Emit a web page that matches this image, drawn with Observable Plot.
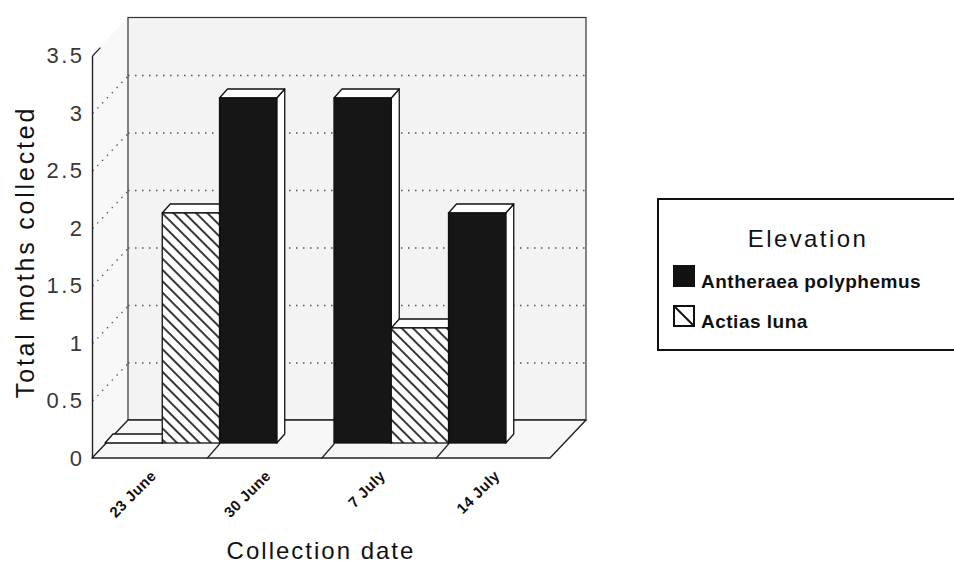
<!DOCTYPE html>
<html><head><meta charset="utf-8">
<script src="https://cdn.jsdelivr.net/npm/d3@7"></script>
<script src="https://cdn.jsdelivr.net/npm/@observablehq/plot@0.6"></script>
<style>
html,body{margin:0;padding:0;background:#fff;overflow:hidden;}
#wrap{position:relative;width:954px;height:569px;overflow:hidden;font-family:"Liberation Sans",Arial,Helvetica,sans-serif;}
#wrap > svg.chart{position:absolute;left:0;top:0;}
.ytitle{position:absolute;left:25px;top:252px;transform:translate(-50%,-50%) rotate(-90deg);font-size:25px;letter-spacing:2.8px;white-space:nowrap;color:#111;line-height:1;}
.xtitle{position:absolute;left:321px;top:539px;transform:translateX(-50%);font-size:24px;letter-spacing:2px;white-space:nowrap;color:#111;line-height:1;}
#wrap > svg#legend{position:absolute;left:650px;top:190px;}
</style>
</head><body>
<div id="wrap"></div>
<script>
// ---- data ----
const dates = ["23 June", "30 June", "7 July", "14 July"];
const seriesNames = ["Antheraea polyphemus", "Actias luna"];
const polyphemus = [0, 3, 3, 2];
const luna = [2, null, 1, null];
const yTicks = [0, 0.5, 1, 1.5, 2, 2.5, 3, 3.5];
const gridTicks = [0.5, 1, 1.5, 2, 2.5, 3];
const yMax = 3.5;
const legendTitle = "Elevation";
const xTitle = "Collection date";
const yTitle = "Total moths collected";

// ---- geometry (pixel depth offsets of the pseudo-3D planes) ----
const X_RANGE = [105, 563];
const Y_RANGE = [443, 40.5];
const n = dates.length;
const pxX = (X_RANGE[1] - X_RANGE[0]) / n;
const pxY = (Y_RANGE[0] - Y_RANGE[1]) / yMax;
const fx = -13 / pxX, fy = -15 / pxY;   // front plane
const bx = 23 / pxX, by = 23 / pxY;     // back wall
const ddx = 8 / pxX, ddy = 9 / pxY;     // bar depth
const barW = 1 / seriesNames.length;
const seriesValues = [polyphemus, luna];

const bars = [];
dates.forEach((d, i) => seriesValues.forEach((vals, j) => {
  if (vals[i] != null) bars.push({id: d + "|" + j, date: d, j, value: vals[i], x1: i + j * barW, x2: i + (j + 1) * barW});
}));
const sidePts = bars.flatMap(b => [
  {id: b.id, x: b.x2, y1: 0, y2: b.value},
  {id: b.id, x: b.x2 + ddx, y1: ddy, y2: b.value + ddy}
]);
const topPts = bars.flatMap(b => [
  {id: b.id, y: b.value, x1: b.x1, x2: b.x2},
  {id: b.id, y: b.value + ddy, x1: b.x1 + ddx, x2: b.x2 + ddx}
]);

const FONT = "Liberation Sans, Arial, Helvetica, sans-serif";
const svg = Plot.plot({
  width: 954, height: 569,
  className: "chart",
  x: {type: "linear", domain: [0, n], range: X_RANGE, axis: null},
  y: {type: "linear", domain: [0, yMax], range: Y_RANGE, axis: null},
  style: {background: "transparent", fontFamily: FONT, overflow: "visible"},
  marks: [
    // left side wall
    Plot.areaY([{x: fx, y1: fy, y2: yMax + fy}, {x: bx, y1: by, y2: yMax + by}], {x: "x", y1: "y1", y2: "y2", fill: "#f8f8f8"}),
    // back wall
    Plot.rect([{x1: bx, x2: n + bx, y1: by, y2: yMax + by}], {x1: "x1", x2: "x2", y1: "y1", y2: "y2", fill: "#f3f3f3", stroke: "#333", strokeWidth: 1.2}),
    // back wall grid
    Plot.ruleY(gridTicks, {y: d => d + by, x1: () => bx, x2: () => n + bx, stroke: "#555", strokeWidth: 1.3, strokeDasharray: "1.5,5.5"}),
    // side wall grid
    Plot.link(gridTicks, {x1: () => fx, y1: d => d + fy, x2: () => bx, y2: d => d + by, stroke: "#555", strokeWidth: 1.3, strokeDasharray: "1.5,5.5"}),
    // floor
    Plot.areaX([{y: fy, x1: fx, x2: n + fx}, {y: by, x1: bx, x2: n + bx}], {y: "y", x1: "x1", x2: "x2", fill: "#f7f7f7", stroke: "#222", strokeWidth: 1.4}),
    // floor dividers
    Plot.link(d3.range(1, n), {x1: i => i + fx, y1: () => fy, x2: i => i, y2: () => 0, stroke: "#222", strokeWidth: 1.2}),
    // front y axis line + top stub
    Plot.link([yMax], {x1: () => fx, y1: () => fy, x2: () => fx, y2: d => d + fy, stroke: "#222", strokeWidth: 1.4}),
    Plot.link([yMax], {x1: () => fx, y1: d => d + fy, x2: () => fx + 0.22 * (bx - fx), y2: d => d + fy + 0.22 * (by - fy), stroke: "#222", strokeWidth: 1.2}),
    // bars: side faces, top faces, front faces
    Plot.areaY(sidePts, {x: "x", y1: "y1", y2: "y2", z: "id", fill: "white", stroke: "#111", strokeWidth: 1.3}),
    Plot.areaX(topPts, {y: "y", x1: "x1", x2: "x2", z: "id", fill: "white", stroke: "#111", strokeWidth: 1.3}),
    Plot.rect(bars.filter(b => b.j === 0), {x1: "x1", x2: "x2", y1: () => 0, y2: "value", fill: "#161616", stroke: "#111", strokeWidth: 1.3}),
    Plot.rect(bars.filter(b => b.j === 1), {x1: "x1", x2: "x2", y1: () => 0, y2: "value", fill: "url(#hatch)", stroke: "#111", strokeWidth: 1.3}),
    // y tick labels
    Plot.text(yTicks, {x: () => fx, y: d => d + fy, text: d => String(d), textAnchor: "end", dx: -8, fontSize: 22, fill: "#383838", fontFamily: FONT}),
    // date labels
    Plot.text(dates, {x: (d, i) => i + 0.5 + fx, y: () => fy, text: d => d, rotate: -45, textAnchor: "end", dx: 4, dy: 15, fontSize: 15, fontWeight: "bold", fill: "#111", fontFamily: FONT})
  ]
});

d3.select(svg).insert("defs", ":first-child").html(
  '<pattern id="hatch" patternUnits="userSpaceOnUse" width="8" height="8" patternTransform="rotate(-45)">' +
  '<rect width="8" height="8" fill="white"/><line x1="4" y1="-1" x2="4" y2="9" stroke="#151515" stroke-width="1.7"/></pattern>'
);
const tg = svg.querySelectorAll('g[aria-label="text"]');
if (tg[0]) tg[0].setAttribute("letter-spacing", "2.5");
if (tg[1]) tg[1].setAttribute("letter-spacing", "0.4");

const wrap = document.getElementById("wrap");
wrap.appendChild(svg);

const yt = document.createElement("div"); yt.className = "ytitle"; yt.textContent = yTitle; wrap.appendChild(yt);
const xt = document.createElement("div"); xt.className = "xtitle"; xt.textContent = xTitle; wrap.appendChild(xt);

// legend
const lg = d3.select(wrap).append("svg").attr("id", "legend").attr("width", 304).attr("height", 170)
  .style("font-family", FONT);
lg.append("rect").attr("x", 8).attr("y", 9).attr("width", 320).attr("height", 151)
  .attr("fill", "white").attr("stroke", "#111").attr("stroke-width", 2);
lg.append("text").attr("x", 158).attr("y", 57).attr("text-anchor", "middle")
  .attr("font-size", 24).attr("letter-spacing", 2.4).attr("fill", "#111").text(legendTitle);
seriesNames.forEach((s, j) => {
  const top = 75 + j * 40;
  if (j === 0) {
    lg.append("rect").attr("x", 23).attr("y", top).attr("width", 22).attr("height", 22).attr("fill", "#111");
  } else {
    lg.append("rect").attr("x", 24).attr("y", top + 1).attr("width", 20).attr("height", 20).attr("fill", "white").attr("stroke", "#111").attr("stroke-width", 2);
    lg.append("line").attr("x1", 24).attr("y1", top + 1).attr("x2", 44).attr("y2", top + 21).attr("stroke", "#111").attr("stroke-width", 2);
  }
  lg.append("text").attr("x", 51).attr("y", top + 23).attr("font-size", 19).attr("font-weight", "bold")
    .attr("letter-spacing", 0.5).attr("fill", "#111").text(s);
});
</script>
</body></html>
